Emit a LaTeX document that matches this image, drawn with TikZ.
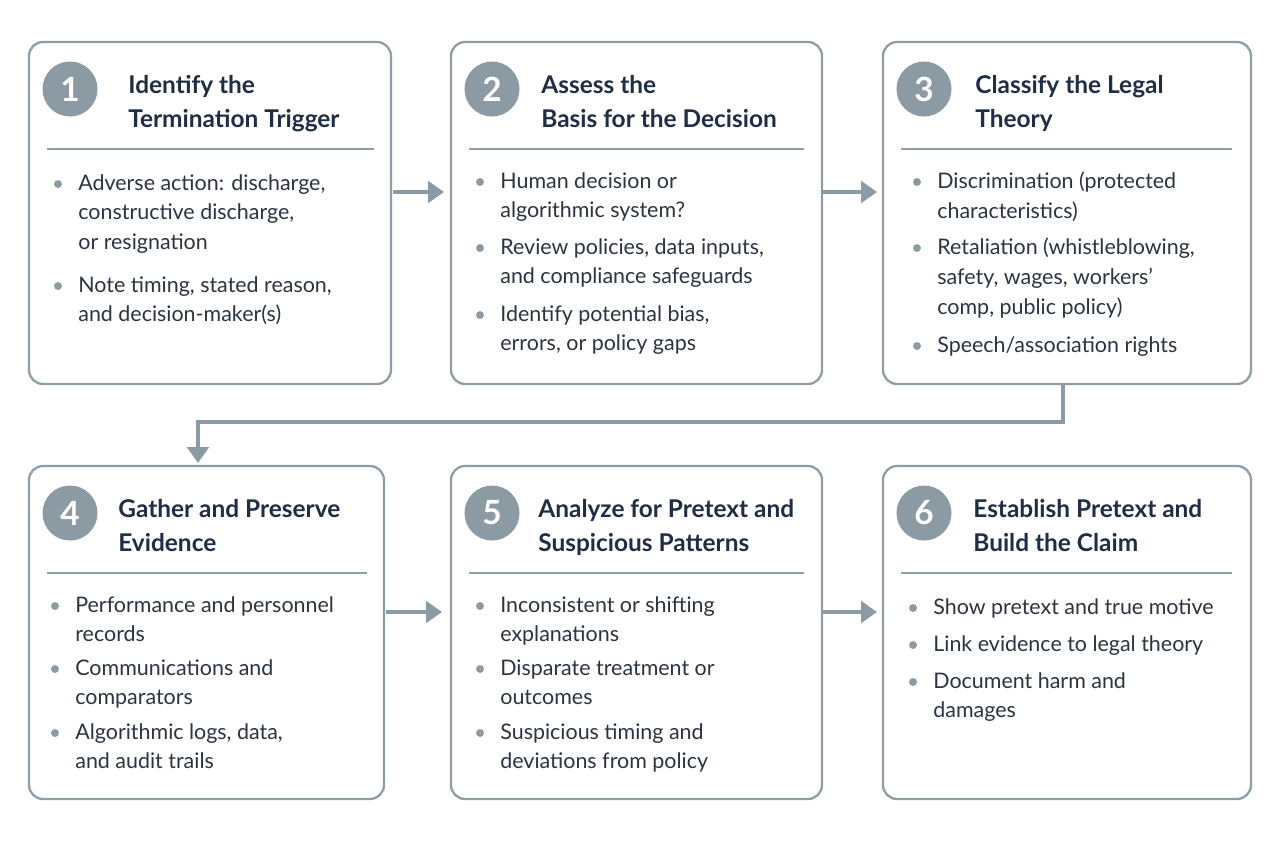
\documentclass[tikz,border=0pt]{standalone}
\usepackage{fontspec}
\setmainfont{Lato}
\usetikzlibrary{arrows.meta}
\definecolor{bd}{HTML}{8E9EA7}
\definecolor{cf}{HTML}{8C9AA3}
\definecolor{hd}{HTML}{1F2D45}
\definecolor{tx}{HTML}{2B3440}
\definecolor{ar}{HTML}{8A9BA5}
\begin{document}
\begin{tikzpicture}[x=0.02cm,y=-0.02cm,
 box/.style={draw=bd,line width=1.3pt,rounded corners=8pt,fill=white},
 num/.style={circle,fill=cf,minimum size=1.1cm,inner sep=0pt,text=white,font=\fontsize{19}{19}\selectfont\bfseries},
 head/.style={anchor=north west,inner sep=0pt,text=hd,align=left,font=\fontsize{13.9}{19.3}\selectfont\bfseries},
 body/.style={anchor=north west,inner sep=0pt,text=tx,align=left,font=\fontsize{12.2}{16.9}\selectfont},
 dot/.style={circle,fill=cf,minimum size=4.5pt,inner sep=0pt},
 flow/.style={draw=ar,line width=2.3pt,-{Triangle[length=9pt,width=12pt]}},
 rule/.style={draw=bd,line width=0.9pt}]
\path[use as bounding box,fill=white] (0,0) rectangle (1280,840);
% boxes
\draw[box] (29,42) rectangle (391,384);
\node (b1) at (210,213) {};
\draw[box] (451,42) rectangle (822,384);
\node (b2) at (636,213) {};
\draw[box] (883,42) rectangle (1251,384);
\node (b3) at (1067,213) {};
\draw[box] (29,466) rectangle (384,799);
\node (b4) at (206,632) {};
\draw[box] (451,466) rectangle (822,799);
\node (b5) at (636,632) {};
\draw[box] (883,466) rectangle (1251,799);
\node (b6) at (1067,632) {};
% numbers + headings
\newcommand{\stepbox}[6]{%
 \node[num] (n#1) at (#2+41,#3+47) {#1};
 \node[head] (h#1) at (#2+#6,#3+33) {#4};
 \draw[rule] (#2+18,#3+107) -- (#2+#5,#3+107);}
\stepbox{1}{29}{42}{Identify the\\Termination Trigger}{345}{99}
\stepbox{2}{451}{42}{Assess the\\Basis for the Decision}{353}{90}
\stepbox{3}{883}{42}{Classify the Legal\\Theory}{349}{92}
\stepbox{4}{29}{466}{Gather and Preserve\\Evidence}{338}{89}
\stepbox{5}{451}{466}{Analyze for Pretext and\\Suspicious Patterns}{353}{87}
\stepbox{6}{883}{466}{Establish Pretext and\\Build the Claim}{349}{90}
% bullets
\newcommand{\bul}[4]{%
 \node[dot] (d#1) at (#2-20,#3+12) {};
 \node[body] (t#1) at (#2,#3+2) {#4};}
\bul{1a}{78}{172}{Adverse action: discharge,\\constructive discharge,\\or resignation}{}
\bul{1b}{78}{274}{Note timing, stated reason,\\and decision-maker(s)}{}
\bul{2a}{500}{170}{Human decision or\\algorithmic system?}{}
\bul{2b}{500}{236}{Review policies, data inputs,\\and compliance safeguards}{}
\bul{2c}{500}{303}{Identify potential bias,\\errors, or policy gaps}{}
\bul{3a}{937}{170}{Discrimination (protected\\characteristics)}{}
\bul{3b}{937}{236}{Retaliation (whistleblowing,\\safety, wages, workers’\\comp, public policy)}{}
\bul{3c}{937}{334}{Speech/association rights}{}
\bul{4a}{75}{594}{Performance and personnel\\records}{}
\bul{4b}{75}{657}{Communications and\\comparators}{}
\bul{4c}{75}{721}{Algorithmic logs, data,\\and audit trails}{}
\bul{5a}{500}{594}{Inconsistent or shifting\\explanations}{}
\bul{5b}{500}{657}{Disparate treatment or\\outcomes}{}
\bul{5c}{500}{721}{Suspicious timing and\\deviations from policy}{}
\bul{6a}{933}{596}{Show pretext and true motive}{}
\bul{6b}{933}{633}{Link evidence to legal theory}{}
\bul{6c}{933}{670}{Document harm and\\damages}{}
% connectors
\coordinate (a1) at (393,192); \coordinate (a2) at (444,192);
\coordinate (a3) at (823,192); \coordinate (a4) at (877,192);
\coordinate (a5) at (386,612); \coordinate (a6) at (442,612);
\coordinate (a7) at (823,612); \coordinate (a8) at (877,612);
\coordinate (c1) at (1063,385); \coordinate (c2) at (1063,422);
\coordinate (c3) at (198,422); \coordinate (c4) at (198,463);
\draw[flow] (a1) -- (a2);
\draw[flow] (a3) -- (a4);
\draw[flow] (a5) -- (a6);
\draw[flow] (a7) -- (a8);
\draw[flow] (c1) -- (c2) -- (c3) -- (c4);
\end{tikzpicture}
\end{document}
